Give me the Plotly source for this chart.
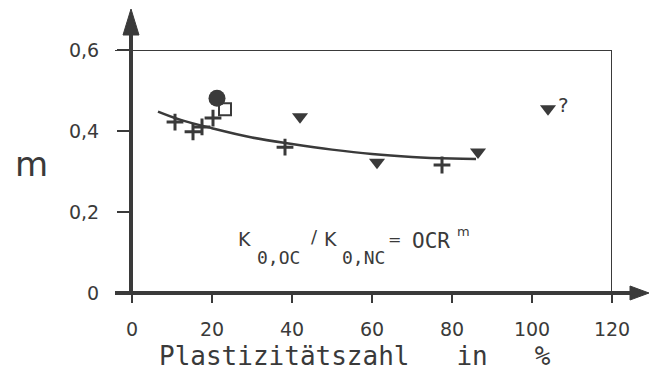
import plotly.graph_objects as go

# Plastizitätszahl (%) and exponent m for each test series
cross_ip = [10.75, 15.25, 17.5, 20.25, 38.25, 77.5]
cross_m = [0.422, 0.398, 0.41, 0.432, 0.36, 0.316]

tri_ip = [42.0, 61.25, 86.5, 104.0]
tri_m = [0.435, 0.323, 0.348, 0.455]

circle_ip = [21.25]
circle_m = [0.481]

square_ip = [23.25]
square_m = [0.454]

# hand-fitted trend curve
trend_ip = [6.5, 12, 20, 30, 40, 50, 60, 70, 80, 86]
trend_m = [0.448, 0.428, 0.407, 0.384, 0.368, 0.354, 0.343, 0.336, 0.332, 0.331]

x_ticks = [0, 20, 40, 60, 80, 100, 120]
y_ticks = [0, 0.2, 0.4, 0.6]
y_labels = ["0", "0,2", "0,4", "0,6"]

INK = "#3a3a3a"
FONT = "DejaVu Sans"
MONO = "DejaVu Sans Mono"

W, H = 650, 371
L, R, T, B = 132, 38, 50, 78
PW, PH = W - L - R, H - T - B


def px(xp):
    return (xp - L) / PW


def py(yp):
    return (H - B - yp) / PH


fig = go.Figure()

fig.add_trace(go.Scatter(x=trend_ip, y=trend_m, mode="lines",
                         line=dict(color=INK, width=2.5, shape="spline"),
                         hoverinfo="skip"))
fig.add_trace(go.Scatter(x=cross_ip, y=cross_m, mode="markers",
                         marker=dict(symbol="cross-thin", size=12, color=INK,
                                     line=dict(color=INK, width=3))))
fig.add_trace(go.Scatter(x=tri_ip, y=tri_m, mode="markers",
                         marker=dict(symbol="triangle-down", size=14, color=INK,
                                     line=dict(width=0))))
fig.add_trace(go.Scatter(x=circle_ip, y=circle_m, mode="markers",
                         marker=dict(symbol="circle", size=17, color=INK,
                                     line=dict(width=0))))
fig.add_trace(go.Scatter(x=square_ip, y=square_m, mode="markers",
                         marker=dict(symbol="square-open", size=12, color=INK,
                                     line=dict(color=INK, width=2))))

shapes = [
    # frame: top and right border
    dict(type="line", xref="paper", yref="y", x0=px(115), x1=1, y0=0.6, y1=0.6,
         line=dict(color=INK, width=2)),
    dict(type="line", xref="x", yref="y", x0=120, x1=120, y0=0, y1=0.6,
         line=dict(color=INK, width=2)),
    # horizontal axis with arrow
    dict(type="line", xref="paper", yref="paper", x0=px(115), x1=px(634), y0=0, y1=0,
         line=dict(color=INK, width=4)),
    dict(type="path", xref="paper", yref="paper",
         path=f"M {px(630)} {py(H - B - 7)} L {px(649)} 0 L {px(630)} {py(H - B + 7)} Z",
         fillcolor=INK, line=dict(color=INK, width=1)),
    # vertical axis with arrow
    dict(type="line", xref="paper", yref="paper", x0=px(131), x1=px(131), y0=py(295), y1=py(30),
         line=dict(color=INK, width=4)),
    dict(type="path", xref="paper", yref="paper",
         path=f"M {px(123)} {py(35)} L {px(131)} {py(9)} L {px(139)} {py(35)} Z",
         fillcolor=INK, line=dict(color=INK, width=1)),
]


def label(text, xp, yp, size, family=FONT, xanchor="center"):
    return dict(text=text, xref="paper", yref="paper", x=px(xp), y=py(yp),
                xanchor=xanchor, yanchor="middle", showarrow=False,
                font=dict(family=family, size=size, color=INK))


annotations = [
    label("m", 31, 164, 34),
    label("?", 563, 105, 20),
    # K0,OC / K0,NC = OCR^m
    label("K", 244, 239, 19),
    label("0,OC", 278, 257, 18, MONO),
    label("/", 314, 237, 18),
    label("K", 330, 239, 19),
    label("0,NC", 363, 257, 18, MONO),
    label("=", 394, 239, 16),
    label("OCR", 431, 241, 21, MONO),
    label("m", 463, 231, 13),
    # x-axis title
    label("Plastizitätszahl\u00a0\u00a0\u00a0in\u00a0\u00a0\u00a0%", 157, 356, 26, MONO, "left"),
]

fig.update_layout(
    width=W, height=H,
    margin=dict(l=L, r=R, t=T, b=B, pad=0),
    paper_bgcolor="white", plot_bgcolor="white",
    showlegend=False,
    font=dict(family=FONT, color=INK),
    shapes=shapes,
    annotations=annotations,
    xaxis=dict(range=[0, 120], tickvals=x_ticks, ticks="outside", ticklen=9,
               tickwidth=2, tickcolor=INK, showgrid=False, zeroline=False,
               showline=False, ticklabelstandoff=10,
               tickfont=dict(family=FONT, size=19, color=INK)),
    yaxis=dict(range=[0, 0.6], tickvals=y_ticks, ticktext=y_labels, ticks="outside",
               ticklen=14, tickwidth=2, tickcolor=INK, showgrid=False, zeroline=False,
               showline=False, ticklabelstandoff=14,
               tickfont=dict(family=FONT, size=19, color=INK)),
)

fig.write_html("out.html")
